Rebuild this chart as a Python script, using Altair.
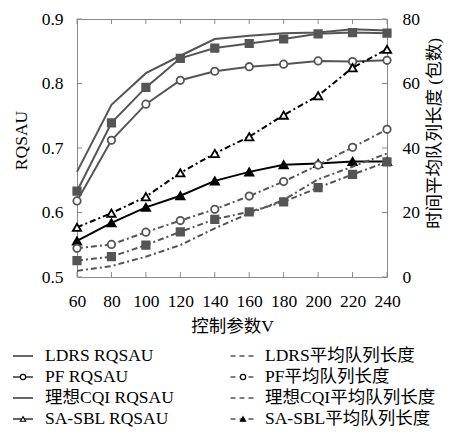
import altair as alt
import pandas as pd

# ---------------- data ----------------
v_values = [60, 80, 100, 120, 140, 160, 180, 200, 220, 240]

ldrs_rqsau = [0.633, 0.739, 0.794, 0.839, 0.855, 0.862, 0.869, 0.877, 0.879, 0.878]
pf_rqsau = [0.618, 0.712, 0.768, 0.805, 0.819, 0.826, 0.830, 0.835, 0.834, 0.836]
ideal_rqsau = [0.663, 0.767, 0.816, 0.843, 0.869, 0.874, 0.878, 0.879, 0.884, 0.882]
sasbl_rqsau = [0.556, 0.584, 0.608, 0.626, 0.649, 0.663, 0.674, 0.676, 0.679, 0.679]

ldrs_queue = [5.1, 6.3, 9.9, 14.0, 17.9, 20.2, 23.3, 27.7, 31.8, 35.7]
pf_queue = [8.9, 10.1, 13.9, 17.5, 21.0, 25.1, 29.6, 34.7, 40.2, 45.8]
ideal_queue = [1.9, 3.4, 6.3, 9.9, 15.1, 19.7, 23.9, 30.3, 34.2, 38.3]
sasbl_queue = [15.4, 19.8, 24.9, 32.3, 38.3, 43.5, 50.2, 56.2, 64.9, 70.6]

left_ticks = [0.5, 0.6, 0.7, 0.8, 0.9]
right_ticks = [0, 20, 40, 60, 80]

legend_labels = [
    "LDRS RQSAU", "PF RQSAU", "理想CQI RQSAU", "SA-SBL RQSAU",
    "LDRS平均队列长度", "PF平均队列长度", "理想CQI平均队列长度", "SA-SBL平均队列长度",
]
legend_cols = [0, 0, 0, 0, 1, 1, 1, 1]
legend_rows = [0, 1, 2, 3, 0, 1, 2, 3]

# ---------------- styles ----------------
FONT = "Liberation Serif, Noto Sans CJK SC"
GRAY = "#555555"
FRAME = "#8a8a8a"
DASHDOT = [6, 3, 2, 3]
FS = 17.5

x_scale = alt.Scale(domain=[60, 240], nice=False)
yl_scale = alt.Scale(domain=[0.5, 0.9], nice=False, zero=False)
yr_scale = alt.Scale(domain=[0, 80], nice=False)

common_axis = dict(ticks=False, domain=False, grid=False, labelFontSize=FS,
                   titleFontSize=FS, labelFont=FONT, titleFont=FONT,
                   labelColor="black", titleColor="black", titleFontWeight="normal",
                   labelOverlap=False, labelFlush=False)
x_axis = alt.Axis(values=v_values, title="控制参数V", labelPadding=15,
                  titlePadding=8, **common_axis)
yl_axis = alt.Axis(values=left_ticks, format=".1f", title="RQSAU", orient="left",
                   labelPadding=14, titlePadding=11, titleY=121, **common_axis)
yr_axis = alt.Axis(values=right_ticks, title="时间平均队列长度 (包数)", orient="right",
                   labelPadding=15, titlePadding=6, titleY=114, titleAngle=270,
                   titleBaseline="top", **common_axis)

X = alt.X("V:Q", scale=x_scale, axis=x_axis)
YL = alt.Y("val:Q", scale=yl_scale, axis=yl_axis)
YR = alt.Y("val:Q", scale=yr_scale, axis=yr_axis)

left_series = [
    (ideal_rqsau, GRAY, None, None),
    (ldrs_rqsau, GRAY, "square", GRAY),
    (pf_rqsau, GRAY, "circle", "white"),
    (sasbl_rqsau, "black", "triangle-up", "black"),
]
right_series = [
    (ideal_queue, GRAY, None, None),
    (ldrs_queue, GRAY, "square", GRAY),
    (pf_queue, GRAY, "circle", "white"),
    (sasbl_queue, "black", "triangle-up", "white"),
]


def build(series, Y, dash):
    layers = []
    for vals, col, shp, fl in series:
        df = pd.DataFrame({"V": v_values, "val": vals})
        kw = dict(color=col, strokeWidth=2)
        if dash:
            kw["strokeDash"] = dash
        layers.append(alt.Chart(df).mark_line(**kw).encode(x=X, y=Y))
        if shp:
            layers.append(alt.Chart(df).mark_point(
                shape=shp, size=70 if shp == "triangle-up" else 55, filled=False,
                fill=fl, fillOpacity=1, stroke=col, strokeWidth=1.8,
                opacity=1).encode(x=X, y=Y))
    return layers


left_layers = build(left_series, YL, None)
right_layers = build(right_series, YR, DASHDOT)

# inward tick marks drawn at the tick values through the scales
lt_df = pd.DataFrame({"val": left_ticks})
left_layers.append(alt.Chart(lt_df).mark_rule(color=FRAME, strokeWidth=1).encode(
    y=YL, x=alt.value(0), x2=alt.value(5)))
vt_df = pd.DataFrame({"V": v_values})
left_layers.append(alt.Chart(vt_df).mark_rule(color=FRAME, strokeWidth=1).encode(
    x=X, y=alt.value(258), y2=alt.value(253)))
left_layers.append(alt.Chart(vt_df).mark_rule(color=FRAME, strokeWidth=1).encode(
    x=X, y=alt.value(0), y2=alt.value(5)))
rt_df = pd.DataFrame({"val": right_ticks})
right_layers.append(alt.Chart(rt_df).mark_rule(color=FRAME, strokeWidth=1).encode(
    y=YR, x=alt.value(305), x2=alt.value(310)))

plot = alt.layer(alt.layer(*left_layers), alt.layer(*right_layers)).resolve_scale(
    y="independent")

# ---------------- custom legend (below the plot) ----------------
lx_scale = alt.Scale(domain=[0, 1], range=[-54, 166])
ly_scale = alt.Scale(domain=[0, 3], range=[337, 400])
leg_markers = [None, "circle", None, "triangle-up", None, "circle", None, "triangle-up"]
leg_fill = [None, "white", None, "white", None, "white", None, "black"]

LX = alt.X("col:Q", scale=lx_scale, axis=None)
LY = alt.Y("row:Q", scale=ly_scale, axis=None)
legend_layers = []
for lab, c, r, mk, fl in zip(legend_labels, legend_cols, legend_rows, leg_markers, leg_fill):
    d = pd.DataFrame({"col": [c], "row": [r], "label": [lab]})
    kw = dict(shape="M-1,0L1,0", size=400 if c == 0 else 625, filled=False,
              stroke="black", strokeWidth=1.2, opacity=1)
    if c == 1:
        kw["strokeDash"] = [5, 4]
    legend_layers.append(alt.Chart(d).mark_point(**kw).encode(x=LX, y=LY))
    if mk:
        legend_layers.append(
            alt.Chart(d).mark_point(shape=mk, size=28, filled=False, fill=fl,
                                    fillOpacity=1, stroke="black", strokeWidth=1.1,
                                    opacity=1).encode(x=LX, y=LY))
    legend_layers.append(
        alt.Chart(d).mark_text(align="left", baseline="middle", dx=22, fontSize=FS,
                               font=FONT, color="black").encode(
            x=LX, y=LY, text="label:N"))

legend = alt.layer(*legend_layers)

chart = alt.layer(plot, legend).resolve_scale(
    x="independent", y="independent"
).properties(
    width=310, height=258,
    padding={"left": 69, "top": 11, "right": 59, "bottom": 152},
    autosize=alt.AutoSizeParams(type="none"),
    background="white",
).configure_view(stroke=FRAME, strokeWidth=1)

chart.save("out.html", embed_options={"renderer": "svg", "actions": False})
